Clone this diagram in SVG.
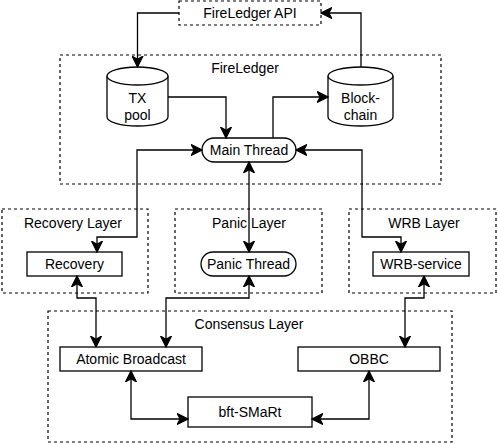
<svg xmlns="http://www.w3.org/2000/svg" width="498" height="444" viewBox="0 0 498 444">
<defs>
<marker id="arr" markerUnits="userSpaceOnUse" markerWidth="12" markerHeight="12" refX="9" refY="5" orient="auto-start-reverse" viewBox="0 0 10 10">
<path d="M0,0.5 L9,5 L0,9.5 L2.5,5 Z" fill="#000" stroke="#000" stroke-width="1"/>
</marker>
<style>
text{font-family:"Liberation Sans",Arial,sans-serif;font-size:14px;fill:#000;text-anchor:middle}
.grp{fill:#fff;stroke:#000;stroke-width:1.2;stroke-dasharray:3 3}
.box{fill:#fff;stroke:#000;stroke-width:1.3}
.c{fill:none;stroke:#000;stroke-width:1.3}
.e{marker-end:url(#arr)}
.b{marker-start:url(#arr);marker-end:url(#arr)}
</style>
</defs>
<rect width="498" height="444" fill="#fff"/>
<g id="api"><rect class="grp" x="179" y="1" width="142" height="24"/><text x="250" y="18">FireLedger API</text></g>
<g id="fireledger"><rect class="grp" x="60" y="55" width="381" height="129"/><text x="245" y="73">FireLedger</text></g>
<g id="recovery-layer"><rect class="grp" x="2" y="209" width="146" height="84"/><text x="73" y="228">Recovery Layer</text></g>
<g id="panic-layer"><rect class="grp" x="175" y="209" width="147" height="84"/><text x="249" y="228">Panic Layer</text></g>
<g id="wrb-layer"><rect class="grp" x="349" y="209" width="147" height="84"/><text x="424" y="228">WRB Layer</text></g>
<g id="consensus-layer"><rect class="grp" x="48" y="311" width="404" height="131"/><text x="249" y="329">Consensus Layer</text></g>
<g id="txpool">
<path class="box" d="M107,76 V117 A30.5,9 0 0 0 168,117 V76 A30.5,9 0 0 0 107,76 Z"/>
<path class="box" fill="none" d="M107,76 A30.5,9 0 0 0 168,76"/>
<text x="137.5" y="103">TX</text><text x="137.5" y="120">pool</text>
</g>
<g id="blockchain">
<path class="box" d="M328,76 V117 A32.5,9 0 0 0 393,117 V76 A32.5,9 0 0 0 328,76 Z"/>
<path class="box" fill="none" d="M328,76 A32.5,9 0 0 0 393,76"/>
<text x="360.5" y="103">Block-</text><text x="360.5" y="120">chain</text>
</g>
<g id="main-thread"><rect class="box" x="202" y="138" width="94" height="24" rx="12"/><text x="249" y="155">Main Thread</text></g>
<g id="recovery"><rect class="box" x="27" y="252" width="95" height="24"/><text x="74.5" y="269">Recovery</text></g>
<g id="panic-thread"><rect class="box" x="201" y="252" width="95" height="24" rx="12"/><text x="248.5" y="269">Panic Thread</text></g>
<g id="wrb-service"><rect class="box" x="373" y="252" width="96" height="24"/><text x="421" y="269">WRB-service</text></g>
<g id="atomic"><rect class="box" x="60" y="347" width="142" height="24"/><text x="131" y="364">Atomic Broadcast</text></g>
<g id="obbc"><rect class="box" x="298" y="347" width="142" height="24"/><text x="369" y="364">OBBC</text></g>
<g id="bft"><rect class="box" x="188" y="397" width="124" height="30"/><text x="250" y="417">bft-SMaRt</text></g>
<g id="connectors">
<path class="c e" d="M179,13 H137.5 V67"/>
<path class="c e" d="M361,67 V13 H321"/>
<path class="c e" d="M168,97 H226 V138"/>
<path class="c e" d="M273,138 V97 H328"/>
<path class="c b" d="M202,150 H137 V237 H97 V252"/>
<path class="c b" d="M249,162 V252"/>
<path class="c b" d="M296,150 H362 V237 H401 V252"/>
<path class="c b" d="M77,276 V298 H96 V347"/>
<path class="c b" d="M249,276 V298 H166 V347"/>
<path class="c b" d="M424,276 V298 H405 V347"/>
<path class="c b" d="M131,371 V419 H188"/>
<path class="c b" d="M369,371 V419 H312"/>
</g>
</svg>
